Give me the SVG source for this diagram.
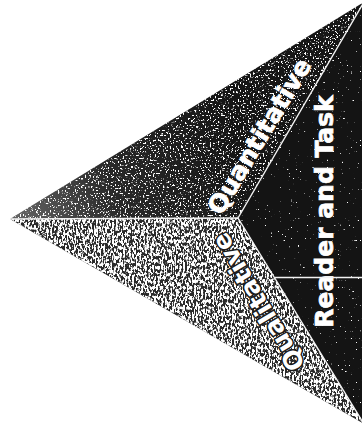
<svg xmlns="http://www.w3.org/2000/svg" width="362" height="425" viewBox="0 0 362 425">
<style>
.lbl{font-family:"DejaVu Sans","Verdana",sans-serif;font-weight:bold;font-size:25px;fill:#ffffff;stroke:#ffffff;stroke-width:0.7}
.halo{stroke:#1a1a1a;stroke-width:3;stroke-linejoin:round;paint-order:stroke}
.div{stroke:#f2f2f2;stroke-width:1.4;fill:none}
</style>
<defs>
<filter id="spkQuant" x="0" y="0" width="100%" height="100%" color-interpolation-filters="sRGB">
<feTurbulence type="fractalNoise" baseFrequency="0.6" numOctaves="1" seed="7" result="n"/>
<feColorMatrix in="n" type="matrix" values="0 0 0 0 1  0 0 0 0 1  0 0 0 0 1  14 0 0 0 -8.2" result="w"/>
<feComposite in="w" in2="SourceGraphic" operator="in" result="wc"/>
<feMerge><feMergeNode in="SourceGraphic"/><feMergeNode in="wc"/></feMerge>
</filter>
<filter id="spkReader" x="0" y="0" width="100%" height="100%" color-interpolation-filters="sRGB">
<feTurbulence type="fractalNoise" baseFrequency="0.55" numOctaves="1" seed="11" result="n"/>
<feColorMatrix in="n" type="matrix" values="0 0 0 0 1  0 0 0 0 1  0 0 0 0 1  16 0 0 0 -11.4" result="w"/>
<feComposite in="w" in2="SourceGraphic" operator="in" result="wc"/>
<feMerge><feMergeNode in="SourceGraphic"/><feMergeNode in="wc"/></feMerge>
</filter>
<filter id="spkQual" x="0" y="0" width="100%" height="100%" color-interpolation-filters="sRGB">
<feTurbulence type="fractalNoise" baseFrequency="0.55 0.3" numOctaves="2" seed="3" result="n"/>
<feColorMatrix in="n" type="matrix" values="0 0 0 0 1  0 0 0 0 1  0 0 0 0 1  10 0 0 0 -4.5" result="w"/>
<feComposite in="w" in2="SourceGraphic" operator="in" result="wc"/>
<feMerge><feMergeNode in="SourceGraphic"/><feMergeNode in="wc"/></feMerge>
</filter>
<linearGradient id="gQuant" x1="10" y1="219" x2="238" y2="150" gradientUnits="userSpaceOnUse">
<stop offset="0" stop-color="#ffffff" stop-opacity="0.35"/><stop offset="0.45" stop-color="#ffffff" stop-opacity="0.08"/><stop offset="1" stop-color="#ffffff" stop-opacity="0"/>
</linearGradient>
</defs>
<rect width="362" height="425" fill="#ffffff"/>
<g id="quantitative">
<polygon points="10,219 364,2 238,218" fill="#161616" filter="url(#spkQuant)"/>
<polygon points="10,219 364,2 238,218" fill="url(#gQuant)"/>
<text class="lbl" text-anchor="middle" transform="translate(266.8,140.7) rotate(-59)">Quantitative</text>
</g>
<g id="reader-and-task">
<polygon points="238,218 364,2 364,424" fill="#141414" filter="url(#spkReader)"/>
<text class="lbl" text-anchor="middle" transform="translate(333,211.5) rotate(-90)">Reader and Task</text>
</g>
<g id="qualitative">
<polygon points="10,219 238,218 364,424" fill="#2a2a2a" filter="url(#spkQual)"/>
<text class="lbl halo" text-anchor="middle" transform="translate(265.8,297.6) rotate(-120.9)">Qualitative</text>
</g>
<g id="connectors">
<line class="div" x1="10" y1="219" x2="238" y2="218"/>
<line class="div" x1="238" y1="218" x2="364" y2="2"/>
<line class="div" x1="238" y1="218" x2="364" y2="424"/>
<line class="div" x1="275" y1="277.5" x2="362" y2="277.5" stroke-width="1"/>
</g>
</svg>
